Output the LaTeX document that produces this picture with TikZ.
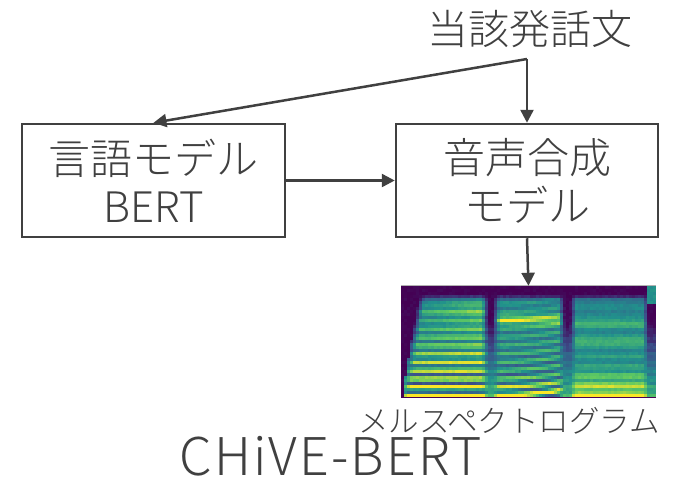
\documentclass[tikz,border=0pt]{standalone}
\usepackage{fontspec}
\setmainfont{Noto Sans CJK JP}[UprightFont=* Light]
\usetikzlibrary{arrows.meta}
\definecolor{ink}{HTML}{404040}
\definecolor{vc0}{HTML}{440154}
\definecolor{vc1}{HTML}{3B528B}
\definecolor{vc2}{HTML}{21918C}
\definecolor{vc3}{HTML}{5EC962}
\definecolor{vc4}{HTML}{FDE725}
\definecolor{vc5}{HTML}{FDE725}
\begin{document}
\begin{tikzpicture}[x=1pt,y=-1pt,
  box/.style={draw=ink, line width=2.5pt, minimum width=263pt, minimum height=113pt,
    inner sep=0pt, align=center, text=ink, font=\fontsize{42}{48}\selectfont},
  conn/.style={draw=ink, line width=2.5pt, -{Triangle[length=13pt,width=13pt]}},
  lbl/.style={text=ink, inner sep=0pt}]
\useasboundingbox[fill=white] (0,0) rectangle (694,493);

\node[lbl, font=\fontsize{41}{41}\selectfont] (src) at (530,29) {当該発話文};
\coordinate (top) at (527,59);

\node[box] (bert) at (153.5,180.5) {言語モデル\\BERT};
\node[box, minimum width=262pt] (tts) at (527,180.5) {音声合成\\モデル};

\node[minimum width=255pt, minimum height=112pt, inner sep=0pt, fill=vc0] (spec) at (528.5,342) {};
\pgfmathsetseed{7}
\begin{scope}
\clip (spec.south west) rectangle (spec.north east);
\foreach \c in {0,...,84}{
  \foreach \r in {0,...,36}{
    \pgfmathsetmacro\u{\c/84}
    \pgfmathsetmacro\v{\r/36}
    \pgfmathsetmacro\Lone{0.07-0.07*\v}
    \pgfmathsetmacro\wa{max(0,min(1,(\u-\Lone)/0.025))*max(0,min(1,(0.34-\u)/0.025))}
    \pgfmathsetmacro\wb{max(0,min(1,(\u-0.36)/0.025))*max(0,min(1,(0.645-\u)/0.025))}
    \pgfmathsetmacro\wc{max(0,min(1,(\u-0.665)/0.025))*max(0,min(1,(0.975-\u)/0.02))}
    \pgfmathsetmacro\wg{max(0,1-\wa-\wb-\wc)*(\u>\Lone)}
    \pgfmathsetmacro\ba{0.35+0.8*\v+0.3*((\u-0.05)/0.28)*(1-\v) + 0.15*max(0,1-abs(\v-0.22)/0.06)}
    \pgfmathsetmacro\bb{0.5+0.3*\v + 0.45*max(0,1-abs(\v-0.3)/0.08) + 0.35*max(0,(\v-0.8)/0.2)}
    \pgfmathsetmacro\bc{0.45+0.2*\v + 0.25*(max(0,1-abs(\v-0.33)/0.05)+max(0,1-abs(\v-0.5)/0.05)) + 0.45*max(0,(\v-0.72)/0.28)}
    \pgfmathsetmacro\ha{0.5+0.5*cos(360*13*\v)}
    \pgfmathsetmacro\hb{0.5+0.5*cos(360*(13*\v+2.5*(\u-0.36)*(\u-0.36)/0.28))}
    \pgfmathsetmacro\hc{0.5+0.5*cos(360*11*\v)}
    \pgfmathsetmacro\ma{0.12+0.75*\v}
    \pgfmathsetmacro\mb{0.15+0.6*\v}
    \pgfmathsetmacro\mc{0.08+0.25*\v}
    \pgfmathsetmacro\g{max(0,\v-0.3)*1.0*(0.8+0.2*\ha)}
    \pgfmathsetmacro\tp{max(0,min(1,(\v-0.07)/0.05))}
    \pgfmathsetmacro\I{\tp*(\wa*\ba*(1-\ma+\ma*\ha)+\wb*\bb*(1-\mb+\mb*\hb)+\wc*\bc*(1-\mc+\mc*\hc)+\wg*\g)+0.03*rand+(\u>0.965)*(\v<0.14)*0.5}
    \pgfmathsetmacro\t{4*max(0,min(0.999,\I))}
    \pgfmathtruncatemacro\k{floor(\t)}
    \pgfmathtruncatemacro\kk{\k+1}
    \pgfmathtruncatemacro\p{(\t-\k)*100}
    \fill[vc\kk!\p!vc\k] (401+3*\c,286+3*\r) rectangle ++(3.1,3.1);
  }
}
\end{scope}
\draw[gray!60, line width=0.8pt] (spec.north west) -- (spec.north east);

\draw[conn] (top) -- (bert.north);
\draw[conn] (top) -- (tts.north);
\draw[conn] (bert.east) -- (tts.west);
\draw[conn] (tts.south) -- (spec.north);

\node[lbl, font=\fontsize{30.5}{30.5}\selectfont] (mel) at (509,421) {メルスペクトログラム};
\node[lbl, anchor=base, font=\fontsize{52}{52}\selectfont\addfontfeature{LetterSpace=4}] (name) at (330.5,475) {CHiVE-BERT};
\end{tikzpicture}
\end{document}
